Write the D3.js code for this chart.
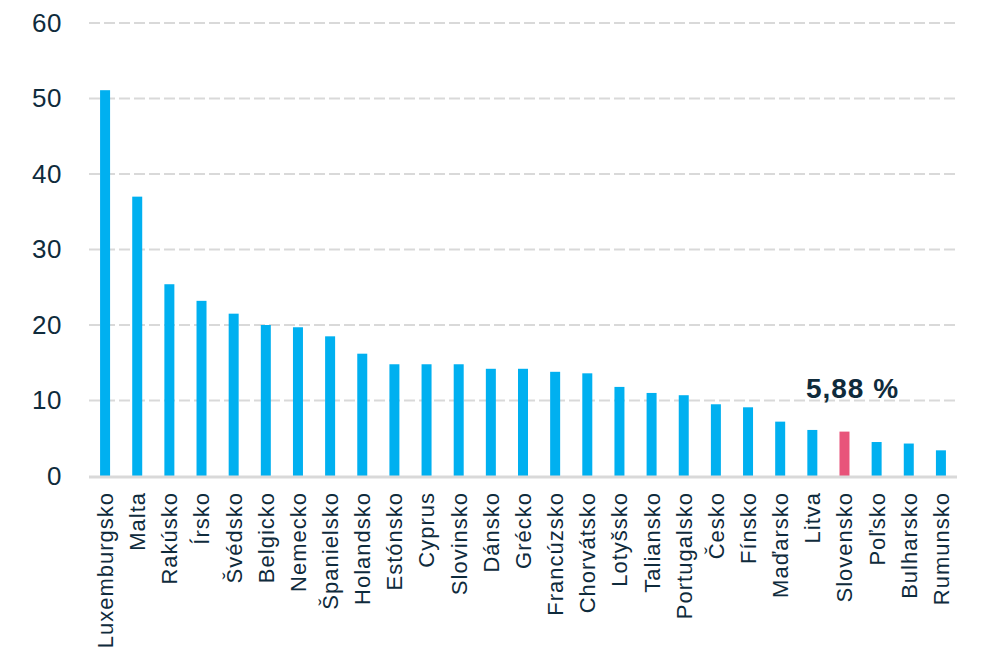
<!DOCTYPE html>
<html>
<head>
<meta charset="utf-8">
<script src="https://cdn.jsdelivr.net/npm/d3@7"></script>
<style>
  body { margin: 0; background: #fff; }
  text { font-family: "Liberation Sans", Arial, sans-serif; fill: #0f2b3c; }
</style>
</head>
<body>
<div id="chart"></div>
<script>
// data
var countries = ["Luxemburgsko", "Malta", "Rakúsko", "Írsko", "Švédsko", "Belgicko", "Nemecko",
  "Španielsko", "Holandsko", "Estónsko", "Cyprus", "Slovinsko", "Dánsko", "Grécko", "Francúzsko",
  "Chorvátsko", "Lotyšsko", "Taliansko", "Portugalsko", "Česko", "Fínsko", "Maďarsko", "Litva",
  "Slovensko", "Poľsko", "Bulharsko", "Rumunsko"];
var values = [51.1, 37.0, 25.4, 23.2, 21.5, 20.0, 19.7, 18.5, 16.2, 14.8, 14.8, 14.8, 14.2, 14.2, 13.8,
  13.6, 11.8, 11.0, 10.7, 9.5, 9.1, 7.2, 6.1, 5.88, 4.5, 4.3, 3.4];
var yTicks = [0, 10, 20, 30, 40, 50, 60];
var highlight = "Slovensko";
var highlightLabel = "5,88 %";

var data = countries.map(function(c, i) { return {name: c, value: values[i]}; });

// set the dimensions and margins of the graph
var margin = {top: 23, right: 50, bottom: 184, left: 89},
    width = 1007 - margin.left - margin.right,
    height = 660 - margin.top - margin.bottom;

var svg = d3.select("#chart")
  .append("svg")
    .attr("width", 1007)
    .attr("height", 660)
  .append("g")
    .attr("transform", "translate(" + margin.left + "," + margin.top + ")");

var pad = 0.689;
var x = d3.scaleBand()
  .domain(countries)
  .range([0, width])
  .paddingInner(pad)
  .paddingOuter(pad / 2);

var y = d3.scaleLinear()
  .domain([0, 60])
  .range([height, 0]);

// dashed grid lines
svg.append("g")
  .selectAll("line")
  .data(yTicks.filter(function(t) { return t > 0; }))
  .enter()
  .append("line")
    .attr("x1", 0)
    .attr("x2", width)
    .attr("y1", function(d) { return y(d); })
    .attr("y2", function(d) { return y(d); })
    .style("stroke", "#d9d9d9")
    .style("stroke-width", 2)
    .style("stroke-dasharray", "11,4");

// y axis labels
var yAxis = svg.append("g")
  .attr("transform", "translate(-27,0)")
  .call(d3.axisLeft(y).tickValues(yTicks).tickSize(0).tickPadding(0));
yAxis.select(".domain").remove();
yAxis.selectAll("text")
  .style("font-family", "'Liberation Sans', Arial, sans-serif")
  .style("font-size", "26px")
  .style("letter-spacing", "0.5px")
  .style("fill", "#0f2b3c");

// bars
svg.append("g")
  .selectAll("rect")
  .data(data)
  .enter()
  .append("rect")
    .attr("x", function(d) { return x(d.name); })
    .attr("y", function(d) { return y(d.value); })
    .attr("width", x.bandwidth())
    .attr("height", function(d) { return height - y(d.value); })
    .style("fill", function(d) { return d.name === highlight ? "#e8547a" : "#00b0f0"; });

// baseline
svg.append("line")
  .attr("x1", 0)
  .attr("x2", width)
  .attr("y1", y(0) + 1)
  .attr("y2", y(0) + 1)
  .style("stroke", "#d9d9d9")
  .style("stroke-width", 3);

// x axis labels, rotated
var xAxis = svg.append("g")
  .attr("transform", "translate(0," + height + ")")
  .call(d3.axisBottom(x).tickSize(0).tickPadding(0));
xAxis.select(".domain").remove();
xAxis.selectAll("text")
  .style("font-family", "'Liberation Sans', Arial, sans-serif")
  .style("font-size", "22px")
  .style("letter-spacing", "1px")
  .style("fill", "#0f2b3c")
  .style("text-anchor", "end")
  .attr("transform", "rotate(-90)")
  .attr("x", -16)
  .attr("y", 0)
  .attr("dy", "0.36em");

// highlight annotation
var hd = data.find(function(d) { return d.name === highlight; });
svg.append("text")
  .attr("x", x(hd.name) + x.bandwidth() / 2 + 8)
  .attr("y", y(10) - 3)
  .attr("text-anchor", "middle")
  .style("font-size", "28px")
  .style("font-weight", "bold")
  .style("letter-spacing", "1px")
  .text(highlightLabel);
</script>
</body>
</html>
